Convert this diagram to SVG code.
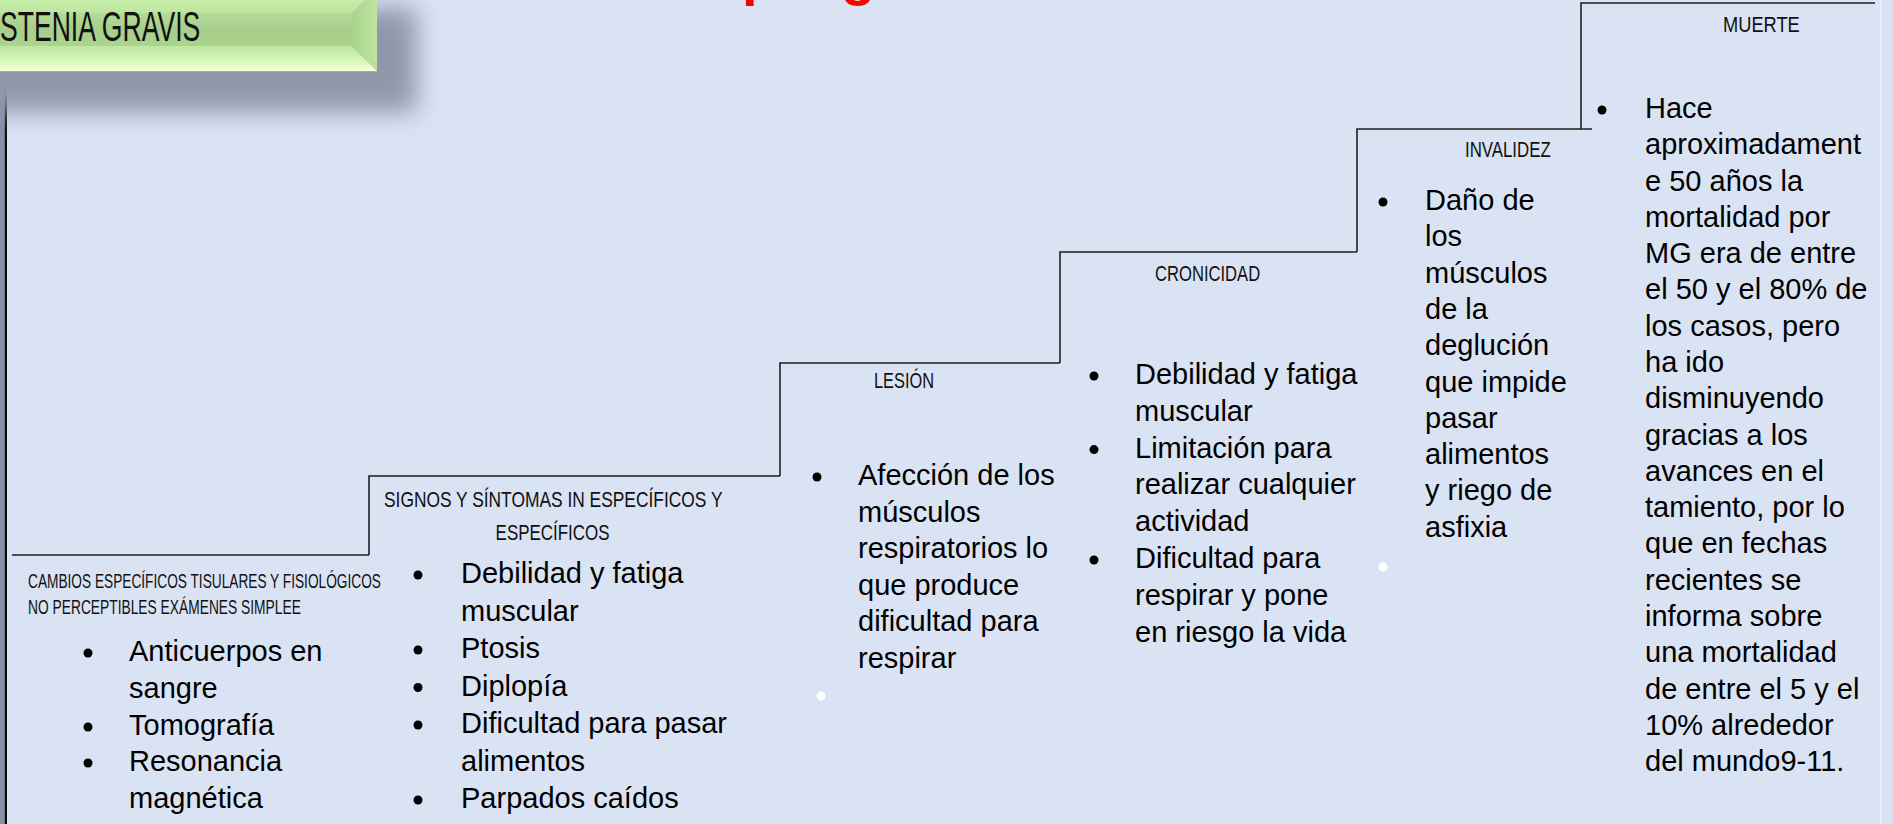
<svg xmlns="http://www.w3.org/2000/svg" width="1893" height="824" viewBox="0 0 1893 824">
<style>
.b{font-family:"Liberation Sans",Arial,sans-serif;font-size:29px;fill:#000}
.h{font-family:"Liberation Sans",Arial,sans-serif;fill:#111}
.stp{fill:none;stroke:#1e1e1e;stroke-width:1.6}
.dot{fill:#000}
.wdot{fill:#fff}
.red{font-family:"Liberation Sans",Arial,sans-serif;font-weight:bold;font-size:56px;fill:#ff0000}
</style>
<defs>
<filter id="sh" x="-30%" y="-60%" width="160%" height="220%"><feGaussianBlur stdDeviation="12"/></filter>
<linearGradient id="gFace" x1="0" y1="0" x2="0" y2="1"><stop offset="0" stop-color="#b4db98"/><stop offset="0.5" stop-color="#a7cf8b"/><stop offset="1" stop-color="#acd48f"/></linearGradient>
<linearGradient id="gTop" x1="0" y1="0" x2="0" y2="1"><stop offset="0" stop-color="#d2f6b2"/><stop offset="1" stop-color="#bde5a0"/></linearGradient>
<linearGradient id="gBot" x1="0" y1="0" x2="0" y2="1"><stop offset="0" stop-color="#bde69e"/><stop offset="0.6" stop-color="#d8f8b8"/><stop offset="1" stop-color="#fbffd9"/></linearGradient>
<linearGradient id="gRight" x1="0" y1="0" x2="1" y2="0"><stop offset="0" stop-color="#aad38e"/><stop offset="1" stop-color="#bce59e"/></linearGradient>
</defs>
<rect x="0" y="0" width="1893" height="824" fill="#dae3f3"/>
<rect x="1880" y="0" width="2" height="824" fill="#e9eef8"/>
<rect x="0" y="71" width="4.5" height="753" fill="#8391aa"/>
<line x1="5.8" y1="71" x2="5.8" y2="824" stroke="#0d0d0d" stroke-width="2.4"/>

<g id="title">
<rect x="-30" y="8" width="447" height="104" fill="#8f98aa" filter="url(#sh)"/>
<polygon points="-30,13 352,13 352,46 -30,46" fill="url(#gFace)"/>
<polygon points="-55,-12 377,-12 352,13 -30,13" fill="url(#gTop)"/>
<polygon points="377,-12 377,71 352,46 352,13" fill="url(#gRight)"/>
<polygon points="-30,46 352,46 377,71 -55,71" fill="url(#gBot)"/>
<line x1="0" y1="71.5" x2="377" y2="71.5" stroke="#a9aaa2" stroke-width="1.2"/>
<text class="h" transform="translate(0,41) scale(0.633,1)" font-size="42">STENIA GRAVIS</text>
</g>

<g id="heading">
<text class="red" x="742" y="-6.5">p</text>
<text class="red" x="841" y="-6.5">g</text>
</g>

<g id="connectors">
<polyline class="stp" points="12,555 369,555"/>
<polyline class="stp" points="369,555 369,476 780,476"/>
<polyline class="stp" points="780,476 780,363 1060,363"/>
<polyline class="stp" points="1060,363 1060,252 1357,252"/>
<polyline class="stp" points="1357,252 1357,129 1592,129"/>
<polyline class="stp" points="1581,129 1581,3 1875,3"/>
</g>

<g id="step1">
<text class="h" transform="translate(28,588) scale(0.685,1)" font-size="20">CAMBIOS ESPECÍFICOS TISULARES Y FISIOLÓGICOS</text>
<text class="h" transform="translate(28,614) scale(0.69,1)" font-size="20">NO PERCEPTIBLES EXÁMENES SIMPLEE</text>
<circle class="dot" cx="88" cy="653" r="4.5"/>
<circle class="dot" cx="88" cy="727" r="4.5"/>
<circle class="dot" cx="88" cy="763" r="4.5"/>
<text class="b" x="129" y="661">Anticuerpos en</text>
<text class="b" x="129" y="698">sangre</text>
<text class="b" x="129" y="735">Tomografía</text>
<text class="b" x="129" y="771">Resonancia</text>
<text class="b" x="129" y="808">magnética</text>
</g>

<g id="step2">
<text class="h" transform="translate(384,507) scale(0.79,1)" font-size="22">SIGNOS Y SÍNTOMAS IN ESPECÍFICOS Y</text>
<text class="h" transform="translate(552.5,540) scale(0.77,1)" font-size="22" text-anchor="middle">ESPECÍFICOS</text>
<circle class="dot" cx="418" cy="575" r="4.5"/>
<circle class="dot" cx="418" cy="650" r="4.5"/>
<circle class="dot" cx="418" cy="687.5" r="4.5"/>
<circle class="dot" cx="418" cy="725" r="4.5"/>
<circle class="dot" cx="418" cy="800" r="4.5"/>
<text class="b" x="461" y="583">Debilidad y fatiga</text>
<text class="b" x="461" y="620.5">muscular</text>
<text class="b" x="461" y="658">Ptosis</text>
<text class="b" x="461" y="695.5">Diplopía</text>
<text class="b" x="461" y="733">Dificultad para pasar</text>
<text class="b" x="461" y="770.5">alimentos</text>
<text class="b" x="461" y="808">Parpados caídos</text>
</g>

<g id="step3">
<text class="h" transform="translate(874,388) scale(0.745,1)" font-size="22">LESIÓN</text>
<circle class="dot" cx="817" cy="477" r="4.5"/>
<text class="b" x="858" y="485">Afección de los</text>
<text class="b" x="858" y="521.5">músculos</text>
<text class="b" x="858" y="558">respiratorios lo</text>
<text class="b" x="858" y="594.5">que produce</text>
<text class="b" x="858" y="631">dificultad para</text>
<text class="b" x="858" y="667.5">respirar</text>
<circle class="wdot" cx="821" cy="696" r="4.5"/>
</g>

<g id="step4">
<text class="h" transform="translate(1155,281) scale(0.755,1)" font-size="22">CRONICIDAD</text>
<circle class="dot" cx="1094" cy="376" r="4.5"/>
<circle class="dot" cx="1094" cy="449.6" r="4.5"/>
<circle class="dot" cx="1094" cy="560" r="4.5"/>
<text class="b" x="1135" y="384">Debilidad y fatiga</text>
<text class="b" x="1135" y="420.8">muscular</text>
<text class="b" x="1135" y="457.6">Limitación para</text>
<text class="b" x="1135" y="494.4">realizar cualquier</text>
<text class="b" x="1135" y="531.2">actividad</text>
<text class="b" x="1135" y="568">Dificultad para</text>
<text class="b" x="1135" y="604.8">respirar y pone</text>
<text class="b" x="1135" y="641.6">en riesgo la vida</text>
</g>

<g id="step5">
<text class="h" transform="translate(1465,157) scale(0.765,1)" font-size="22">INVALIDEZ</text>
<circle class="dot" cx="1383" cy="202" r="4.5"/>
<text class="b" x="1425" y="210">Daño de</text>
<text class="b" x="1425" y="246.3">los</text>
<text class="b" x="1425" y="282.6">músculos</text>
<text class="b" x="1425" y="318.9">de la</text>
<text class="b" x="1425" y="355.2">deglución</text>
<text class="b" x="1425" y="391.5">que impide</text>
<text class="b" x="1425" y="427.8">pasar</text>
<text class="b" x="1425" y="464.1">alimentos</text>
<text class="b" x="1425" y="500.4">y riego de</text>
<text class="b" x="1425" y="536.7">asfixia</text>
<circle class="wdot" cx="1383" cy="567" r="4.5"/>
</g>

<g id="step6">
<text class="h" transform="translate(1723,31.5) scale(0.83,1)" font-size="22">MUERTE</text>
<circle class="dot" cx="1602" cy="110" r="4.5"/>
<text class="b" x="1645" y="118">Hace</text>
<text class="b" x="1645" y="154.3">aproximadament</text>
<text class="b" x="1645" y="190.6">e 50 años la</text>
<text class="b" x="1645" y="226.8">mortalidad por</text>
<text class="b" x="1645" y="263.1">MG era de entre</text>
<text class="b" x="1645" y="299.4">el 50 y el 80% de</text>
<text class="b" x="1645" y="335.7">los casos, pero</text>
<text class="b" x="1645" y="372">ha ido</text>
<text class="b" x="1645" y="408.2">disminuyendo</text>
<text class="b" x="1645" y="444.5">gracias a los</text>
<text class="b" x="1645" y="480.8">avances en el</text>
<text class="b" x="1645" y="517.1">tamiento, por lo</text>
<text class="b" x="1645" y="553.4">que en fechas</text>
<text class="b" x="1645" y="589.6">recientes se</text>
<text class="b" x="1645" y="625.9">informa sobre</text>
<text class="b" x="1645" y="662.2">una mortalidad</text>
<text class="b" x="1645" y="698.5">de entre el 5 y el</text>
<text class="b" x="1645" y="734.8">10% alrededor</text>
<text class="b" x="1645" y="771">del mundo9-11.</text>
</g>
</svg>
